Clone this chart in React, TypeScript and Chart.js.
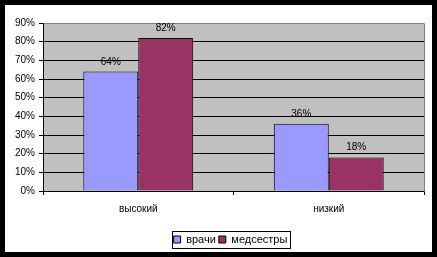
import React, { useEffect, useRef } from "react";
import { Chart, registerables } from "chart.js";

Chart.register(...registerables);

const categories = ["высокий", "низкий"];
const seriesNames = ["врачи", "медсестры"];
const doctorsValues = [64, 36];
const nursesValues = [82, 18];
const yTickValues = [0, 10, 20, 30, 40, 50, 60, 70, 80, 90];

const FONT = "'Liberation Sans', Arial, sans-serif";

export default function App() {
  const ref = useRef<HTMLCanvasElement | null>(null);

  useEffect(() => {
    if (!ref.current) return;

    const plotBg = {
      id: "plotBg",
      afterLayout(chart: any) {
        const lg = chart.legend;
        if (lg) {
          lg.left += 32;
        }
      },
      beforeDraw(chart: any) {
        const { ctx, chartArea: a } = chart;
        ctx.save();
        ctx.fillStyle = "#c0c0c0";
        ctx.fillRect(a.left, a.top, a.right - a.left, a.bottom - a.top);
        ctx.restore();
      },
      afterDatasetsDraw(chart: any) {
        const { ctx, chartArea: a } = chart;
        ctx.save();
        ctx.strokeStyle = "#808080";
        ctx.lineWidth = 1;
        ctx.beginPath();
        ctx.moveTo(Math.round(a.left) + 0.5, Math.round(a.top) + 0.5);
        ctx.lineTo(Math.round(a.right) + 0.5, Math.round(a.top) + 0.5);
        ctx.lineTo(Math.round(a.right) + 0.5, Math.round(a.bottom) + 0.5);
        ctx.stroke();
        // value labels
        ctx.fillStyle = "#000";
        ctx.font = `10px ${FONT}`;
        ctx.textAlign = "center";
        ctx.textBaseline = "alphabetic";
        chart.data.datasets.forEach((ds: any, di: number) => {
          const meta = chart.getDatasetMeta(di);
          meta.data.forEach((el: any, i: number) => {
            ctx.fillText(`${ds.data[i]}%`, el.x, el.y - 7);
          });
        });
        ctx.restore();
      },
      afterDraw(chart: any) {
        const boxes = chart.legend && chart.legend.legendHitBoxes;
        if (!boxes || !boxes.length) return;
        const { ctx } = chart;
        let l = Infinity, r = -Infinity, c = 0;
        boxes.forEach((b: any) => {
          l = Math.min(l, b.left);
          r = Math.max(r, b.left + b.width);
          c = b.top + b.height / 2;
        });
        ctx.save();
        ctx.strokeStyle = "#000";
        ctx.lineWidth = 1;
        const top = Math.round(c - 8.5);
        ctx.strokeRect(Math.round(l - 2) + 0.5, top + 0.5, Math.round(r - l + 4), 17);
        ctx.restore();
      },
    };

    const chart = new Chart(ref.current, {
      type: "bar",
      data: {
        labels: categories,
        datasets: [
          {
            label: seriesNames[0],
            data: doctorsValues,
            backgroundColor: "#9999ff",
            borderColor: "#000",
            borderWidth: 1,
          },
          {
            label: seriesNames[1],
            data: nursesValues,
            backgroundColor: "#993366",
            borderColor: "#000",
            borderWidth: 1,
          },
        ],
      },
      options: {
        responsive: false,
        animation: false,
        devicePixelRatio: 1,
        layout: { padding: { left: 0, right: 8, top: 18, bottom: -3 } },
        datasets: {
          bar: { categoryPercentage: 0.577, barPercentage: 1 },
        },
        plugins: {
          tooltip: { enabled: false },
          legend: {
            position: "bottom",
            labels: {
              boxWidth: 7,
              boxHeight: 7,
              padding: 3,
              color: "#000",
              font: { family: FONT, size: 11 },
            },
          },
        },
        scales: {
          x: {
            offset: true,
            grid: {
              offset: true,
              drawOnChartArea: false,
              tickLength: 4,
              color: "#000",
            },
            border: { display: true, color: "#000" },
            ticks: {
              color: "#000",
              padding: 8,
              font: { family: FONT, size: 10 },
            },
            afterFit(scale: any) {
              scale.height = 40;
            },
          },
          y: {
            min: 0,
            max: 90,
            afterBuildTicks(scale: any) {
              scale.ticks = yTickValues.map((v) => ({ value: v }));
            },
            grid: {
              color: (ctx: any) => (ctx.tick && ctx.tick.value === 90 ? "#808080" : "#000"),
              tickColor: "#000",
              tickLength: 4,
            },
            border: { display: true, color: "#000" },
            ticks: {
              color: "#000",
              padding: 4,
              font: { family: FONT, size: 10 },
              callback: (v: any) => `${v}%`,
            },
            afterFit(scale: any) {
              scale.width = 38;
            },
          },
        },
      },
      plugins: [plotBg],
    });

    return () => chart.destroy();
  }, []);

  return (
    <div
      style={{
        position: "absolute",
        left: 0,
        top: 0,
        width: 437,
        height: 257,
        background: "#000",
      }}
    >
      <div
        style={{
          position: "absolute",
          left: 5,
          top: 5,
          width: 427,
          height: 247,
          background: "#fff",
          overflow: "hidden",
        }}
      >
        <canvas ref={ref} width={427} height={247} style={{ display: "block" }} />
      </div>
    </div>
  );
}
